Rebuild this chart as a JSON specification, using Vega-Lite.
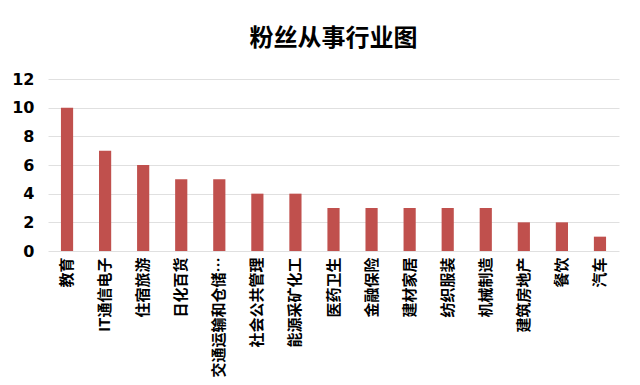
{
  "$schema": "https://vega.github.io/schema/vega-lite/v6.json",
  "width": 571,
  "height": 172,
  "padding": {"left": 11, "top": 27, "right": 20, "bottom": 5},
  "background": "white",
  "title": {"text": "粉丝从事行业图", "fontSize": 24, "font": "Noto Sans CJK SC", "fontWeight": "bold", "color": "#000", "offset": 20},
  "data": {"values": [
    {"industry": "教育", "count": 10},
    {"industry": "IT通信电子", "count": 7},
    {"industry": "住宿旅游", "count": 6},
    {"industry": "日化百货", "count": 5},
    {"industry": "交通运输和仓储邮政", "count": 5},
    {"industry": "社会公共管理", "count": 4},
    {"industry": "能源采矿化工", "count": 4},
    {"industry": "医药卫生", "count": 3},
    {"industry": "金融保险", "count": 3},
    {"industry": "建材家居", "count": 3},
    {"industry": "纺织服装", "count": 3},
    {"industry": "机械制造", "count": 3},
    {"industry": "建筑房地产", "count": 2},
    {"industry": "餐饮", "count": 2},
    {"industry": "汽车", "count": 1}
  ]},
  "mark": {"type": "bar", "color": "#C0504D"},
  "encoding": {
    "x": {"field": "industry", "type": "nominal", "sort": null, "title": null,
      "scale": {"paddingInner": 0.68, "paddingOuter": 0.34},
      "axis": {"labelAngle": -90, "labelFontSize": 15, "labelFont": "Noto Sans CJK SC", "labelFontWeight": "bold", "labelColor": "#000", "ticks": false, "domain": false, "labelPadding": 6, "labelLimit": 127}},
    "y": {"field": "count", "type": "quantitative", "title": null,
      "scale": {"domain": [0, 12]},
      "axis": {"values": [0, 2, 4, 6, 8, 10, 12], "labelFontSize": 16, "labelFont": "DejaVu Sans", "labelFontWeight": "bold", "labelColor": "#000", "ticks": false, "domain": false, "gridColor": "#e0e0e0", "labelPadding": 14}}
  },
  "config": {"view": {"stroke": null}}
}
